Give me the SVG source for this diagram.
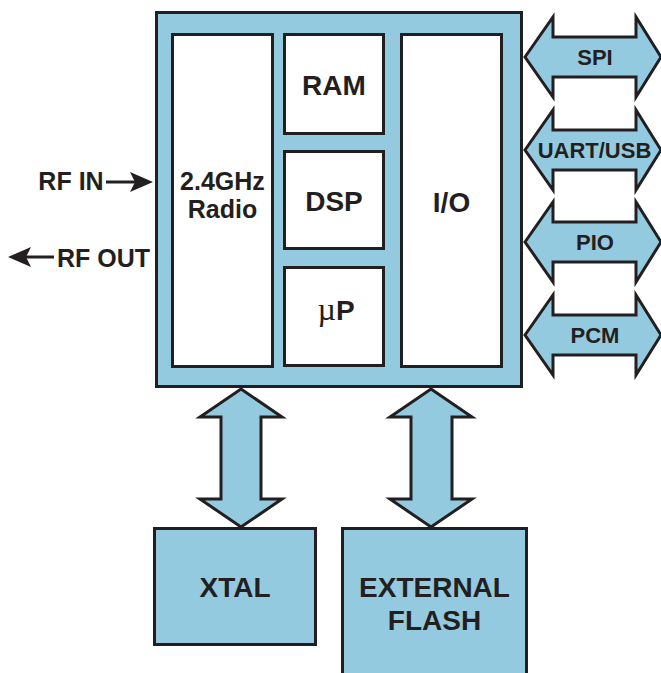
<svg xmlns="http://www.w3.org/2000/svg" width="661" height="673" viewBox="0 0 661 673">
<defs>
<style>
.blk{fill:#94CAE0;stroke:#231F20;stroke-width:3;stroke-linejoin:miter}
.wht{fill:#FFFFFF;stroke:#231F20;stroke-width:3}
.t{font-family:"Liberation Sans",Arial,sans-serif;font-weight:bold;fill:#231F20;text-anchor:middle}
.big{font-size:28px}
.mid{font-size:25px}
.sm{font-size:22px}
.ln{stroke:#231F20;stroke-width:3;fill:none}
.ah{fill:#231F20}
</style>
</defs>
<rect width="661" height="673" fill="#FFFFFF"/>
<g id="chip">
<rect class="blk" x="156.5" y="12.5" width="365" height="374"/>
</g>
<g id="radio">
<rect class="wht" x="172.5" y="34.5" width="100" height="332"/>
<text class="t mid" x="222.5" y="190">2.4GHz</text>
<text class="t mid" x="222.5" y="218">Radio</text>
</g>
<g id="ram">
<rect class="wht" x="284.5" y="34.5" width="99" height="99"/>
<text class="t big" x="334" y="95">RAM</text>
</g>
<g id="dsp">
<rect class="wht" x="284.5" y="151.5" width="99" height="97"/>
<text class="t big" x="334" y="211">DSP</text>
</g>
<g id="up">
<rect class="wht" x="284.5" y="267.5" width="99" height="98"/>
<text class="t big" x="336" y="320"><tspan style="font-family:'Liberation Serif',serif;font-weight:normal;font-size:32px">µ</tspan>P</text>
</g>
<g id="io">
<rect class="wht" x="401.5" y="34.5" width="100" height="332"/>
<text class="t big" x="451.5" y="212">I/O</text>
</g>
<g id="xtal">
<rect class="blk" x="154.5" y="528.5" width="161" height="116"/>
<text class="t big" x="235" y="597">XTAL</text>
</g>
<g id="flash">
<rect class="blk" x="342.5" y="528.5" width="184" height="160"/>
<text class="t big" x="434.5" y="597">EXTERNAL</text>
<text class="t big" x="434.5" y="630">FLASH</text>
</g>
<g id="connectors">
<path class="blk" d="M525,57 L553,17 L553,37 L636,37 L636,17 L661,57 L636,97 L636,77 L553,77 L553,97 Z"/>
<path class="blk" d="M525,150 L553,110 L553,130 L636,130 L636,110 L661,150 L636,190 L636,170 L553,170 L553,190 Z"/>
<path class="blk" d="M525,242 L553,202 L553,222 L636,222 L636,202 L661,242 L636,282 L636,262 L553,262 L553,282 Z"/>
<path class="blk" d="M525,335 L553,295 L553,315 L636,315 L636,295 L661,335 L636,375 L636,355 L553,355 L553,375 Z"/>
<path class="blk" d="M241,389 L282,417 L261,417 L261,499 L282,499 L241,527 L200,499 L221,499 L221,417 L200,417 Z"/>
<path class="blk" d="M431,389 L472,417 L452,417 L452,499 L472,499 L431,527 L390,499 L411,499 L411,417 L390,417 Z"/>
<line class="ln" x1="106" y1="182" x2="136" y2="182"/>
<path class="ah" d="M153,182 L130,172 L135,182 L130,192 Z"/>
<line class="ln" x1="26" y1="257" x2="54" y2="257"/>
<path class="ah" d="M8,257 L31,247 L26,257 L31,267 Z"/>
</g>
<g id="labels">
<text class="t sm" x="595" y="65">SPI</text>
<text class="t sm" x="594.5" y="158">UART/USB</text>
<text class="t sm" x="595" y="250">PIO</text>
<text class="t sm" x="595" y="343">PCM</text>
<text class="t mid" x="71" y="190">RF IN</text>
<text class="t mid" x="103.5" y="267">RF OUT</text>
</g>
</svg>
